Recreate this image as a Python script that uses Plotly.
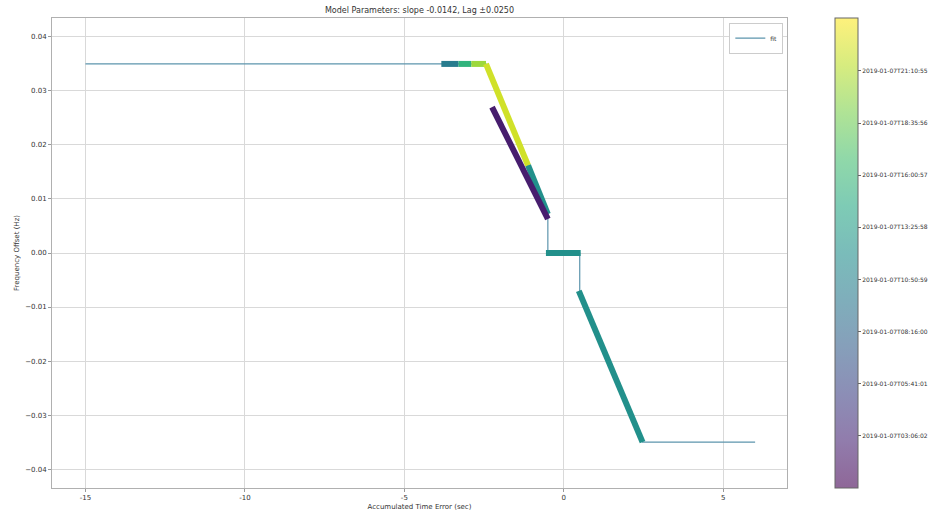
import plotly.graph_objects as go
from plotly.colors import sample_colorscale, unlabel_rgb

# Thin model trajectory: accumulated time error (sec) vs frequency offset (Hz)
path_x = [-15.0, -2.44, -0.50, -0.50, 0.50, 0.50, 2.47, 6.0]
path_y = [0.035, 0.035, 0.0072, 0.0, 0.0, -0.007, -0.035, -0.035]

# Observed segments (thick), each tagged with its observation time (hours of day)
seg_x_start = [-3.84, -3.30, -2.90, -2.44, -1.12, -0.56, 0.47, -2.25]
seg_x_end = [-3.30, -2.90, -2.44, -1.12, -0.50, 0.53, 2.47, -0.50]
seg_y_start = [0.035, 0.035, 0.035, 0.035, 0.0162, 0.0, -0.007, 0.027]
seg_y_end = [0.035, 0.035, 0.035, 0.0162, 0.0072, 0.0, -0.035, 0.0063]
seg_time_h = [10.3, 15.6, 20.3, 22.2, 12.2, 12.2, 12.2, 2.4]

# Colorbar
time_min_h, time_max_h = 0.52, 23.8
cbar_tickvals = [21.182, 18.599, 16.016, 13.433, 10.850, 8.267, 5.684, 3.101]
cbar_ticktext = [
    "2019-01-07T21:10:55",
    "2019-01-07T18:35:56",
    "2019-01-07T16:00:57",
    "2019-01-07T13:25:58",
    "2019-01-07T10:50:59",
    "2019-01-07T08:16:00",
    "2019-01-07T05:41:01",
    "2019-01-07T03:06:02",
]

x_ticks = [-15, -10, -5, 0, 5]
y_ticks = [0.04, 0.03, 0.02, 0.01, 0.00, -0.01, -0.02, -0.03, -0.04]

FONT = "DejaVu Sans"
TXT = "#333333"


def viridis_at(h):
    t = (h - time_min_h) / (time_max_h - time_min_h)
    return sample_colorscale("Viridis", [min(max(t, 0), 1)])[0]


def faded(color, alpha=0.6):
    r, g, b = unlabel_rgb(color)
    return "rgb(%d,%d,%d)" % tuple(round(alpha * c + (1 - alpha) * 255) for c in (r, g, b))


faded_viridis = [[i / 10, faded(c)] for i, c in
                 enumerate(sample_colorscale("Viridis", [i / 10 for i in range(11)]))]

fig = go.Figure()

fig.add_trace(go.Scatter(
    x=path_x, y=path_y, mode="lines", name="fit",
    line=dict(color="#5d95ad", width=1.2),
))

for i in range(len(seg_time_h)):
    fig.add_trace(go.Scatter(
        x=[seg_x_start[i], seg_x_end[i]], y=[seg_y_start[i], seg_y_end[i]],
        mode="lines", showlegend=False, hoverinfo="skip",
        line=dict(color=viridis_at(seg_time_h[i]), width=6),
    ))

# Time colour scale
fig.add_trace(go.Scatter(
    x=[None, None], y=[None, None], mode="markers", showlegend=False, hoverinfo="skip",
    marker=dict(
        color=[time_min_h, time_max_h], cmin=time_min_h, cmax=time_max_h,
        colorscale=faded_viridis, showscale=True,
        colorbar=dict(
            x=1.065, xanchor="left", y=0.5, yanchor="middle", len=1.0,
            xpad=0, ypad=0,
            thickness=23, outlinewidth=1, outlinecolor="#666666",
            tickvals=cbar_tickvals, ticktext=cbar_ticktext,
            ticks="outside", ticklen=3, tickcolor="#666666",
            tickfont=dict(family=FONT, size=6, color=TXT),
        ),
    ),
))

axis_common = dict(
    showgrid=True, gridcolor="#d9d9d9", gridwidth=1,
    showline=True, linecolor="#b0b0b0", linewidth=1, mirror=True,
    ticks="outside", ticklen=3, tickcolor="#999999",
    tickfont=dict(family=FONT, size=7, color=TXT),
    zeroline=False,
)

fig.update_layout(
    width=943, height=512,
    margin=dict(l=52, r=156, t=18, b=24, autoexpand=False),
    paper_bgcolor="white", plot_bgcolor="white",
    title=dict(
        text="Model Parameters: slope -0.0142, Lag ±0.0250",
        x=(52 + 787) / 2 / 943, xanchor="center", y=1 - 10 / 512, yanchor="middle",
        font=dict(family=FONT, size=8, color=TXT),
    ),
    xaxis=dict(
        range=[-16.05, 7.0], tickvals=x_ticks, ticktext=[str(v) for v in x_ticks],
        title=dict(text="Accumulated Time Error (sec)", standoff=2,
                   font=dict(family=FONT, size=7, color=TXT)),
        **axis_common,
    ),
    yaxis=dict(
        range=[-0.0435, 0.0435], tickvals=y_ticks,
        ticktext=["%.2f" % v if v >= 0 else "\u2212%.2f" % -v for v in y_ticks],
        title=dict(text="Frequency Offset (Hz)", standoff=4,
                   font=dict(family=FONT, size=7, color=TXT)),
        **axis_common,
    ),
    legend=dict(
        x=0.995, y=0.99, xanchor="right", yanchor="top",
        bgcolor="white", bordercolor="#cccccc", borderwidth=1,
        font=dict(family=FONT, size=6, color=TXT),
        itemwidth=30, tracegroupgap=0,
    ),
)

fig.write_html("out.html")
